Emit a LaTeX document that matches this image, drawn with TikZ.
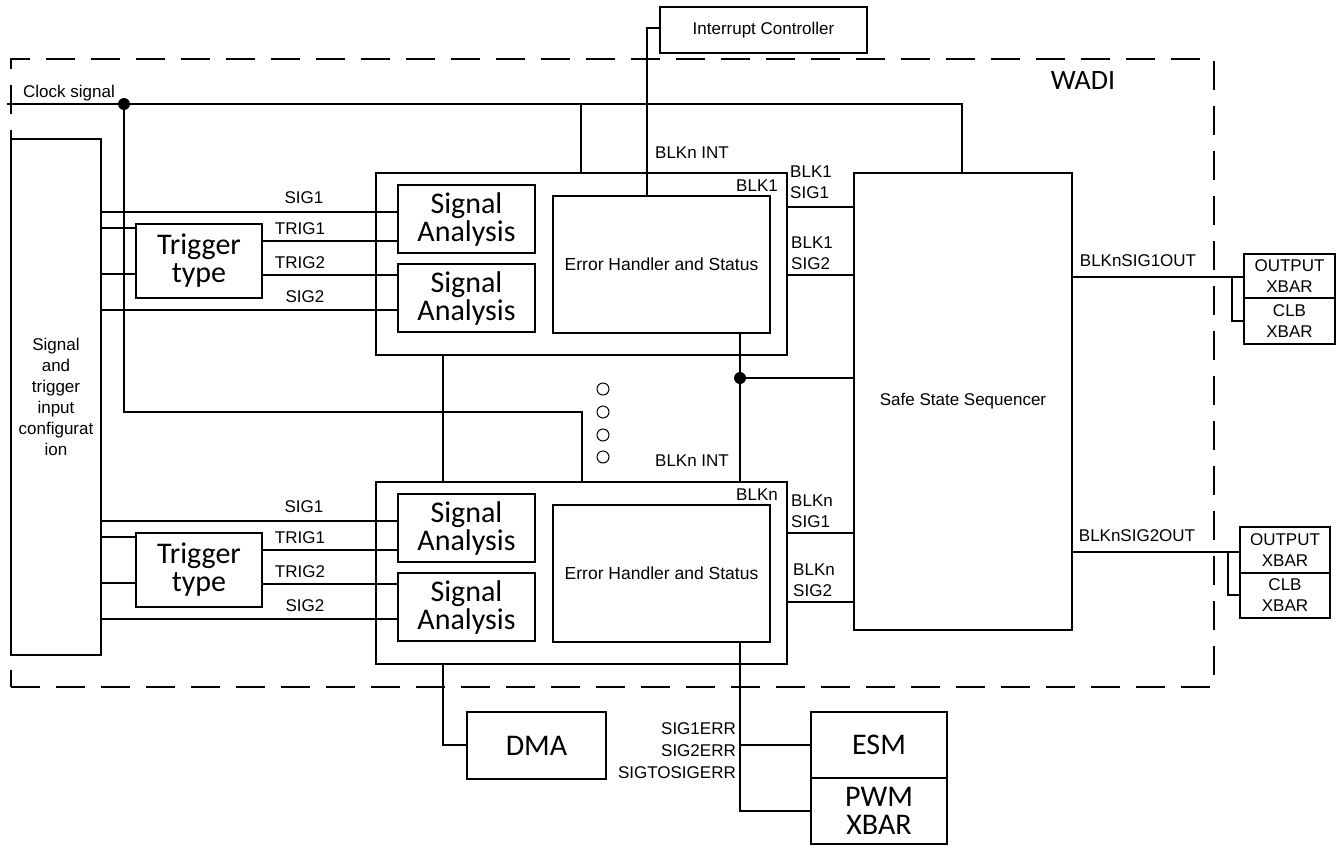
\documentclass[tikz,border=0pt]{standalone}
\usepackage{fontspec}
\setmainfont{Liberation Sans}
\newfontfamily\calfont{Carlito}
\begin{document}
\begin{tikzpicture}[x=1pt,y=-1pt,
  box/.style={draw, line width=2pt, inner sep=0pt, anchor=north west, align=center},
  wire/.style={line width=1.3pt},
  lbl/.style={inner sep=0pt, font=\fontsize{17}{21}\selectfont},
  big/.style={font=\calfont\fontsize{30}{28}\selectfont},
  small/.style={font=\fontsize{17}{21}\selectfont},
  dotn/.style={circle, fill, inner sep=0pt, minimum size=12pt},
  ring/.style={circle, draw, line width=1pt, inner sep=0pt, minimum size=12pt},
  frame/.style={draw, line width=1.5pt, dash pattern=on 29pt off 16pt, inner sep=0pt, anchor=north west}
]
\useasboundingbox (0,0) rectangle (1340,846);

% WADI frame
\node[frame, minimum width=1203pt, minimum height=628pt] (wadi) at (10,58) {};
\node[inner sep=0pt, font=\calfont\fontsize{28}{30}\selectfont] (wadilbl) at (1083,81) {WADI};

% outer boxes
\node[box, small, minimum width=207pt, minimum height=46pt] (ic) at (659,6) {Interrupt Controller};
\node[box, small, minimum width=90pt, minimum height=516pt] (input) at (10,138) {Signal\\and\\trigger\\input\\configurat\\ion};
\node[box, small, minimum width=218pt, minimum height=457pt] (sss) at (853,172) {Safe State Sequencer};

\foreach \b/\o in {1/0,n/309}{
  \node[box, minimum width=411pt, minimum height=182pt] (blk\b) at (375,172+\o) {};
  \node[box, big, minimum width=126pt, minimum height=74pt] (trig\b) at (135,223+\o) {Trigger\\type};
  \node[box, big, minimum width=137pt, minimum height=68pt] (saA\b) at (397,184+\o) {Signal\\Analysis};
  \node[box, big, minimum width=137pt, minimum height=68pt] (saB\b) at (397,263+\o) {Signal\\Analysis};
  \node[box, font=\fontsize{17.5}{21}\selectfont, minimum width=217pt, minimum height=137pt] (eh\b) at (552,195+\o) {Error Handler and Status};
  \node[lbl] (blklbl\b) at (757,186+\o) {BLK\b};
  \coordinate (ys1\b) at (0,212+\o);
  \coordinate (yti\b) at (0,228+\o);
  \coordinate (ytj\b) at (0,274+\o);
  \coordinate (yt1\b) at (0,241+\o);
  \coordinate (yt2\b) at (0,275+\o);
  \coordinate (ys2\b) at (0,310+\o);
  \draw[wire] (input.east |- ys1\b) -- (saA\b.west |- ys1\b);
  \draw[wire] (input.east |- yti\b) -- (trig\b.west |- yti\b);
  \draw[wire] (input.east |- ytj\b) -- (trig\b.west |- ytj\b);
  \draw[wire] (trig\b.east |- yt1\b) -- (saA\b.west |- yt1\b);
  \draw[wire] (trig\b.east |- yt2\b) -- (saB\b.west |- yt2\b);
  \draw[wire] (input.east |- ys2\b) -- (saB\b.west |- ys2\b);
  \node[lbl] (l1\b) at (304,198+\o) {SIG1};
  \node[lbl] (l2\b) at (300,229+\o) {TRIG1};
  \node[lbl] (l3\b) at (300,263+\o) {TRIG2};
  \node[lbl] (l4\b) at (305,297+\o) {SIG2};
}

% block to SSS
\coordinate (o11) at (0,207);
\coordinate (o12) at (0,275);
\coordinate (on1) at (0,533);
\coordinate (on2) at (0,602);
\draw[wire] (blk1.east |- o11) -- (sss.west |- o11);
\draw[wire] (blk1.east |- o12) -- (sss.west |- o12);
\draw[wire] (blkn.east |- on1) -- (sss.west |- on1);
\draw[wire] (blkn.east |- on2) -- (sss.west |- on2);
\node[lbl, anchor=north west, align=left] (b1s1) at (790,166) {BLK1\\SIG1};
\node[lbl, anchor=north west, align=left] (b1s2) at (791,237) {BLK1\\SIG2};
\node[lbl, anchor=north west, align=left] (bns1) at (791,495) {BLKn\\SIG1};
\node[lbl, anchor=north west, align=left] (bns2) at (793,564) {BLKn\\SIG2};

% clock
\coordinate (clkL) at (7,104);
\coordinate (clkR) at (962,104);
\node[dotn] (clkdot) at (124,104) {};
\node[lbl, anchor=base west] (clklbl) at (23,97) {Clock signal};
\draw[wire] (clkL) -- (clkR) -- (sss.north -| clkR);
\coordinate (cb1) at (581,104);
\draw[wire] (cb1) -- (cb1 |- blk1.north);
\coordinate (cl2) at (582,412);
\draw[wire] (clkdot.center) |- (cl2) -- (cl2 |- blkn.north);

% interrupt
\coordinate (icb) at (647,28);
\draw[wire] (ic.west |- icb) -- (icb) -- (icb |- eh1.north);
\node[lbl] (intlbl1) at (692,153) {BLKn INT};
\node[lbl] (intlbl2) at (692,461) {BLKn INT};

% between blocks
\coordinate (v1) at (443,400);
\draw[wire] (v1 |- blk1.south) -- (v1 |- blkn.north);
\coordinate (j1) at (740,378);
\draw[wire] (j1 |- eh1.south) -- (j1 |- blkn.north);
\draw[wire] (j1) -- (j1 -| sss.west);
\node[dotn] (j1dot) at (j1) {};
\foreach \yy [count=\i] in {389,412,435,457}{
  \node[ring] (dot\i) at (603,\yy) {};
}

% outputs
\node[box, small, minimum width=91pt, minimum height=44pt] (out1) at (1243,253) {OUTPUT\\XBAR};
\node[box, small, minimum width=91pt, minimum height=46pt] (clb1) at (1243,297) {CLB\\XBAR};
\node[box, small, minimum width=90pt, minimum height=46pt] (out2) at (1239,526) {OUTPUT\\XBAR};
\node[box, small, minimum width=90pt, minimum height=45pt] (clb2) at (1239,572) {CLB\\XBAR};
\coordinate (q1) at (1232,277);
\coordinate (q1b) at (1232,321);
\draw[wire] (sss.east |- q1) -- (out1.west |- q1);
\draw[wire] (q1) -- (q1b) -- (clb1.west |- q1b);
\node[lbl] (o1lbl) at (1138,261) {BLKnSIG1OUT};
\coordinate (q2) at (1228,552);
\coordinate (q2b) at (1228,595);
\draw[wire] (sss.east |- q2) -- (out2.west |- q2);
\draw[wire] (q2) -- (q2b) -- (clb2.west |- q2b);
\node[lbl] (o2lbl) at (1137,536) {BLKnSIG2OUT};

% bottom
\node[box, big, minimum width=139pt, minimum height=67pt] (dma) at (466,711) {DMA};
\node[box, big, minimum width=136pt, minimum height=66pt] (esm) at (810,711) {ESM};
\node[box, big, minimum width=136pt, minimum height=66pt] (pwm) at (810,777) {PWM\\XBAR};
\coordinate (d1) at (443,745);
\draw[wire] (d1 |- blkn.south) -- (d1) -- (dma.west |- d1);
\coordinate (e1) at (740,745);
\coordinate (e2) at (740,811);
\draw[wire] (e1 |- ehn.south) -- (e2) -- (pwm.west |- e2);
\draw[wire] (e1) -- (esm.west |- e1);
\node[lbl, anchor=north east, align=right, font=\fontsize{17}{22}\selectfont] (errlbl) at (736,722) {SIG1ERR\\SIG2ERR\\SIGTOSIGERR};
\end{tikzpicture}
\end{document}
